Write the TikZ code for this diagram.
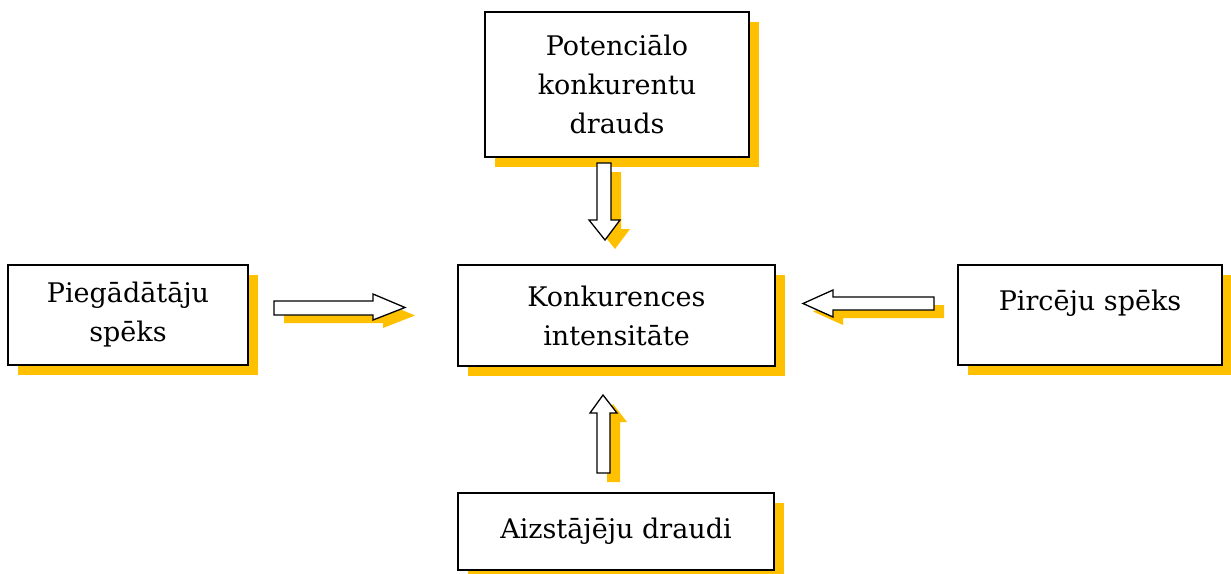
\documentclass[tikz,border=0pt]{standalone}
\usepackage{fontspec}
\setmainfont{DejaVu Serif}
\usetikzlibrary{shadows}
\definecolor{shadowc}{RGB}{255,192,0}
\tikzset{
  forcebox/.style={draw, line width=1.5pt, fill=white, inner sep=0pt, align=center,
    font=\fontsize{27}{39}\selectfont,
    drop shadow={shadow xshift=10pt, shadow yshift=-10pt, fill=shadowc, opacity=1}},
  arrowline/.style={draw, line width=1.3pt, fill=white, line join=miter},
  arrowshade/.style={fill=shadowc},
}
\begin{document}
\begin{tikzpicture}[x=1pt, y=-1pt]
\useasboundingbox (0,0) rectangle (1231,573);

% force boxes
\node[forcebox, minimum width=264pt, minimum height=145pt] (potential) at (617,84.5)
  {Potenciālo\\konkurentu\\drauds};
\node[forcebox, minimum width=317pt, minimum height=101pt] (rivalry) at (616.5,315.5)
  {Konkurences\\intensitāte};
\node[forcebox, minimum width=240pt, minimum height=100pt] (suppliers) at (128,315)
  {Piegādātāju\\spēks};
\node[forcebox, minimum width=264pt, text height=45pt, text depth=55pt, anchor=base] (buyers) at (1090,310)
  {Pircēju spēks};
\node[forcebox, minimum width=316pt, minimum height=77pt] (substitutes) at (616,531.5)
  {Aizstājēju draudi};

% block arrow: potential entrants -> rivalry
\begin{scope}[shift={(10,9)}]
  \fill[arrowshade] (597,163) -- (611,163) -- (611,220) -- (620,220) -- (605,240) -- (589,220) -- (597,220) -- cycle;
\end{scope}
\path[arrowline] (597,163) -- (611,163) -- (611,220) -- (620,220) -- (605,240) -- (589,220) -- (597,220) -- cycle;

% block arrow: substitutes -> rivalry
\begin{scope}[shift={(10,9)}]
  \fill[arrowshade] (597,473) -- (610,473) -- (610,413) -- (617,413) -- (603,395) -- (590,413) -- (597,413) -- cycle;
\end{scope}
\path[arrowline] (597,473) -- (610,473) -- (610,413) -- (617,413) -- (603,395) -- (590,413) -- (597,413) -- cycle;

% block arrow: suppliers -> rivalry
\begin{scope}[shift={(10,8)}]
  \fill[arrowshade] (274,301) -- (373,301) -- (373,294) -- (405,307.5) -- (373,320) -- (373,315) -- (274,315) -- cycle;
\end{scope}
\path[arrowline] (274,301) -- (373,301) -- (373,294) -- (405,307.5) -- (373,320) -- (373,315) -- (274,315) -- cycle;

% block arrow: buyers -> rivalry
\begin{scope}[shift={(10,8)}]
  \fill[arrowshade] (934,297) -- (833,297) -- (833,290) -- (803,303.5) -- (833,317) -- (833,310) -- (934,310) -- cycle;
\end{scope}
\path[arrowline] (934,297) -- (833,297) -- (833,290) -- (803,303.5) -- (833,317) -- (833,310) -- (934,310) -- cycle;
\end{tikzpicture}
\end{document}
